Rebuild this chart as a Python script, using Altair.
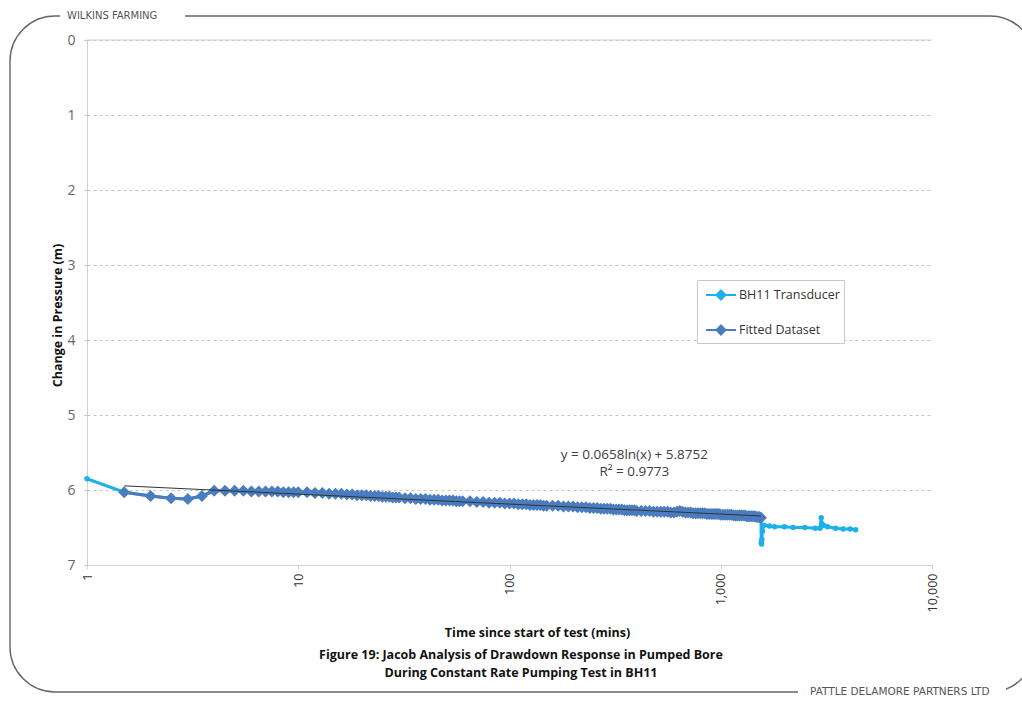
import altair as alt
import pandas as pd

# ---------------- data ----------------
series_names = ["BH11 Transducer", "Fitted Dataset"]
series_colors = ["#1DB0EA", "#4A7DC0"]

# Fitted dataset: time (mins) and change in pressure (m)
fit_t = [1.5, 2, 2.5, 3, 3.5, 4, 4.5, 5, 5.5, 6, 6.5, 7, 7.5, 8, 8.5, 9, 9.5, 10,
         11, 12, 13, 14, 15, 16, 17, 18, 19, 20, 21, 22, 23, 24, 25, 26, 27, 28, 29, 30,
         32, 34, 36, 38, 40, 42, 44, 46, 48, 50, 52, 54, 56, 58, 60,
         65, 70, 75, 80, 85, 90, 95, 100, 105, 110, 115, 120, 125, 130, 135, 140, 145, 150,
         160, 170, 180, 190, 200, 210, 220, 230, 240, 250, 260, 270, 280, 290, 300,
         310, 320, 330, 340, 350, 360, 370, 380, 390, 400,
         420, 440, 460, 480, 500, 520, 540, 560, 580, 600, 620, 640, 660, 680, 700,
         720, 740, 760, 780, 800, 820, 840, 860, 880, 900, 920, 940, 960, 980, 1000,
         1025, 1050, 1075, 1100, 1125, 1150, 1175, 1200, 1225, 1250, 1275, 1300,
         1325, 1350, 1375, 1400, 1425, 1450, 1475, 1500, 1525, 1550]
fit_v = [6.03, 6.08, 6.11, 6.12, 6.08, 6.01, 6.01, 6.01, 6.01, 6.02, 6.02, 6.02, 6.02, 6.02, 6.03, 6.03, 6.03, 6.03,
         6.03, 6.04, 6.04, 6.05, 6.05, 6.05, 6.06, 6.06, 6.07, 6.07, 6.07, 6.08, 6.08, 6.08, 6.09, 6.09, 6.09, 6.10, 6.10, 6.10,
         6.11, 6.11, 6.12, 6.12, 6.12, 6.13, 6.13, 6.13, 6.14, 6.14, 6.14, 6.14, 6.15, 6.15, 6.15,
         6.15, 6.16, 6.16, 6.17, 6.17, 6.17, 6.18, 6.18, 6.18, 6.19, 6.19, 6.19, 6.20, 6.20, 6.20, 6.20, 6.21, 6.21,
         6.21, 6.21, 6.22, 6.22, 6.22, 6.23, 6.23, 6.23, 6.24, 6.24, 6.24, 6.25, 6.25, 6.25, 6.25,
         6.26, 6.26, 6.26, 6.26, 6.27, 6.27, 6.27, 6.27, 6.27, 6.28,
         6.28, 6.28, 6.28, 6.29, 6.29, 6.29, 6.29, 6.29, 6.30, 6.30, 6.29, 6.28, 6.29, 6.30, 6.30,
         6.30, 6.31, 6.31, 6.31, 6.31, 6.31, 6.31, 6.32, 6.32, 6.32, 6.32, 6.32, 6.32, 6.32, 6.33,
         6.33, 6.33, 6.33, 6.33, 6.33, 6.34, 6.34, 6.34, 6.34, 6.34, 6.34, 6.34,
         6.35, 6.35, 6.35, 6.35, 6.35, 6.35, 6.36, 6.36, 6.36, 6.37]

# BH11 transducer: first reading, then (hidden under the fitted data) and the tail
start_t = [1.0]
start_v = [5.85]
tail_t = [1555, 1560, 1565, 1575, 1600, 1700, 1800, 2000, 2200, 2500, 2800, 2950,
          2990, 3010, 3060, 3200, 3500, 3800, 4100, 4350]
tail_v = [6.70, 6.72, 6.66, 6.55, 6.47, 6.48, 6.49, 6.49, 6.50, 6.50, 6.51, 6.51,
          6.37, 6.45, 6.47, 6.49, 6.51, 6.52, 6.52, 6.53]

x_ticks = [1, 10, 100, 1000, 10000]
y_ticks = [0, 1, 2, 3, 4, 5, 6, 7]

eq_lines = ["y = 0.0658ln(x) + 5.8752", "R² = 0.9773"]
eq_pos_t = [390]
eq_pos_v = [5.53]

caption_lines = ["Figure 19: Jacob Analysis of Drawdown Response in Pumped Bore",
                 "During Constant Rate Pumping Test in BH11"]
header_text = "WILKINS FARMING"
footer_text = "PATTLE DELAMORE PARTNERS LTD"

# ---------------- tables ----------------
fit_df = pd.DataFrame({"t": fit_t, "v": fit_v, "series": series_names[1]})
trans_df = pd.DataFrame({"t": start_t + fit_t + tail_t,
                         "v": start_v + fit_v + tail_v,
                         "series": series_names[0]})
eq_df = pd.DataFrame({"t": eq_pos_t, "v": eq_pos_v})
one = pd.DataFrame({"a": [0]})
zero_df = pd.DataFrame({"v": [0]})

W, H = 845, 525
L, T = 87, 40
BOLD_FONT = "Open Sans"

x_enc = alt.X("t:Q",
              scale=alt.Scale(type="log", domain=[1, 10000], nice=False),
              axis=alt.Axis(values=x_ticks, format=",", labelAngle=270,
                            title="Time since start of test (mins)",
                            titleFont=BOLD_FONT, titleFontSize=12.5, titleFontWeight="bold",
                            titleColor="#111", titleX=450, titleY=67, titleBaseline="middle",
                            titleAlign="center",
                            labelFont="Open Sans", labelFontSize=12.5, labelColor="#333",
                            labelPadding=4, tickSize=4, tickColor="#d0d0d0",
                            domainColor="#d0d0d0", grid=False))
y_enc = alt.Y("v:Q",
              scale=alt.Scale(domain=[0, 7], reverse=True, nice=False),
              axis=alt.Axis(values=y_ticks, format="d", title="Change in Pressure (m)",
                            titleFont=BOLD_FONT, titleFontSize=12.5, titleFontWeight="bold",
                            titleColor="#111", titleX=-30, titleY=275,
                            titleAlign="center", titleBaseline="middle",
                            labelFont="Open Sans", labelFontSize=14, labelColor="#666",
                            labelPadding=6, tickSize=6, tickColor="#c0c0c0", tickDash=[3, 3],
                            domainColor="#d0d0d0",
                            grid=True, gridDash=[3, 3], gridColor="#c4c4c4"))

legend = alt.Legend(orient="none", legendX=610, legendY=240, title=None,
                    symbolType="M-1.5,0H1.5M0,-0.45L0.45,0L0,0.45L-0.45,0Z",
                    symbolSize=400, symbolStrokeWidth=2, symbolOffset=9,
                    labelFont="Open Sans", labelFontSize=12.5, labelColor="#333",
                    labelOffset=7, padding=4, rowPadding=15,
                    strokeColor="#c8c8c8", fillColor="white")
color_enc = alt.Color("series:N",
                      scale=alt.Scale(domain=series_names, range=series_colors),
                      legend=legend)

# ---------------- frame decoration ----------------
frame = alt.Chart(one).mark_rect(fillOpacity=0, stroke="#666", strokeWidth=1.4,
                                 cornerRadius=45).encode(
    x=alt.value(10 - L), x2=alt.value(1035 - L),
    y=alt.value(16 - T), y2=alt.value(692 - T))
gap_top = alt.Chart(one).mark_rect(fill="white").encode(
    x=alt.value(60 - L), x2=alt.value(185 - L), y=alt.value(9 - T), y2=alt.value(23 - T))
gap_bot = alt.Chart(one).mark_rect(fill="white").encode(
    x=alt.value(798 - L), x2=alt.value(1006 - L), y=alt.value(685 - T), y2=alt.value(699 - T))
head = alt.Chart(one).mark_text(align="left", baseline="middle", font="DejaVu Sans",
                                fontSize=10, color="#555").encode(
    x=alt.value(67 - L), y=alt.value(16 - T), text=alt.value(header_text))
foot = alt.Chart(one).mark_text(align="left", baseline="middle", font="DejaVu Sans",
                                fontSize=10.5, color="#555").encode(
    x=alt.value(810 - L), y=alt.value(692 - T), text=alt.value(footer_text))

# ---------------- data layers ----------------
zero_rule = alt.Chart(zero_df).mark_rule(color="#d0d0d0", strokeWidth=1).encode(y="v:Q")

trans_line = alt.Chart(trans_df).mark_line(strokeWidth=3).encode(
    x=x_enc, y=y_enc, color=color_enc, order="t:Q")
trans_pts = alt.Chart(trans_df).mark_point(filled=True, shape="circle", size=30,
                                            opacity=1).encode(
    x="t:Q", y="v:Q", color=color_enc)
fit_line = alt.Chart(fit_df).mark_line(strokeWidth=3).encode(
    x="t:Q", y="v:Q", color=color_enc, order="t:Q")
fit_pts = alt.Chart(fit_df).mark_point(filled=True, shape="diamond", size=145,
                                        opacity=1).encode(
    x="t:Q", y="v:Q", color=color_enc)
trend = alt.Chart(fit_df).transform_regression("t", "v", method="log").mark_line(
    color="#333", strokeWidth=1).encode(x="t:Q", y="v:Q")

eq = alt.Chart(eq_df).mark_text(align="center", baseline="middle", font="Open Sans",
                                fontSize=13.5, color="#404040", lineHeight=17).encode(
    x="t:Q", y="v:Q", text=alt.value(eq_lines))

caption = alt.Chart(one).mark_text(align="center", baseline="middle", font=BOLD_FONT,
                                   fontWeight="bold", fontSize=12.5, color="#111",
                                   lineHeight=18).encode(
    x=alt.value(521 - L), y=alt.value(655 - T), text=alt.value(caption_lines))

chart = alt.layer(
    frame, gap_top, gap_bot, head, foot, caption,
    zero_rule, trans_line, trans_pts, fit_line, fit_pts, trend, eq
).properties(
    width=W, height=H,
    autosize=alt.AutoSizeParams(type="none"),
    padding={"left": L, "top": T, "right": 1022 - L - W, "bottom": 713 - T - H},
    background="white"
).configure_view(stroke=None)

chart.save("out.html", embed_options={"renderer": "svg", "actions": False})
